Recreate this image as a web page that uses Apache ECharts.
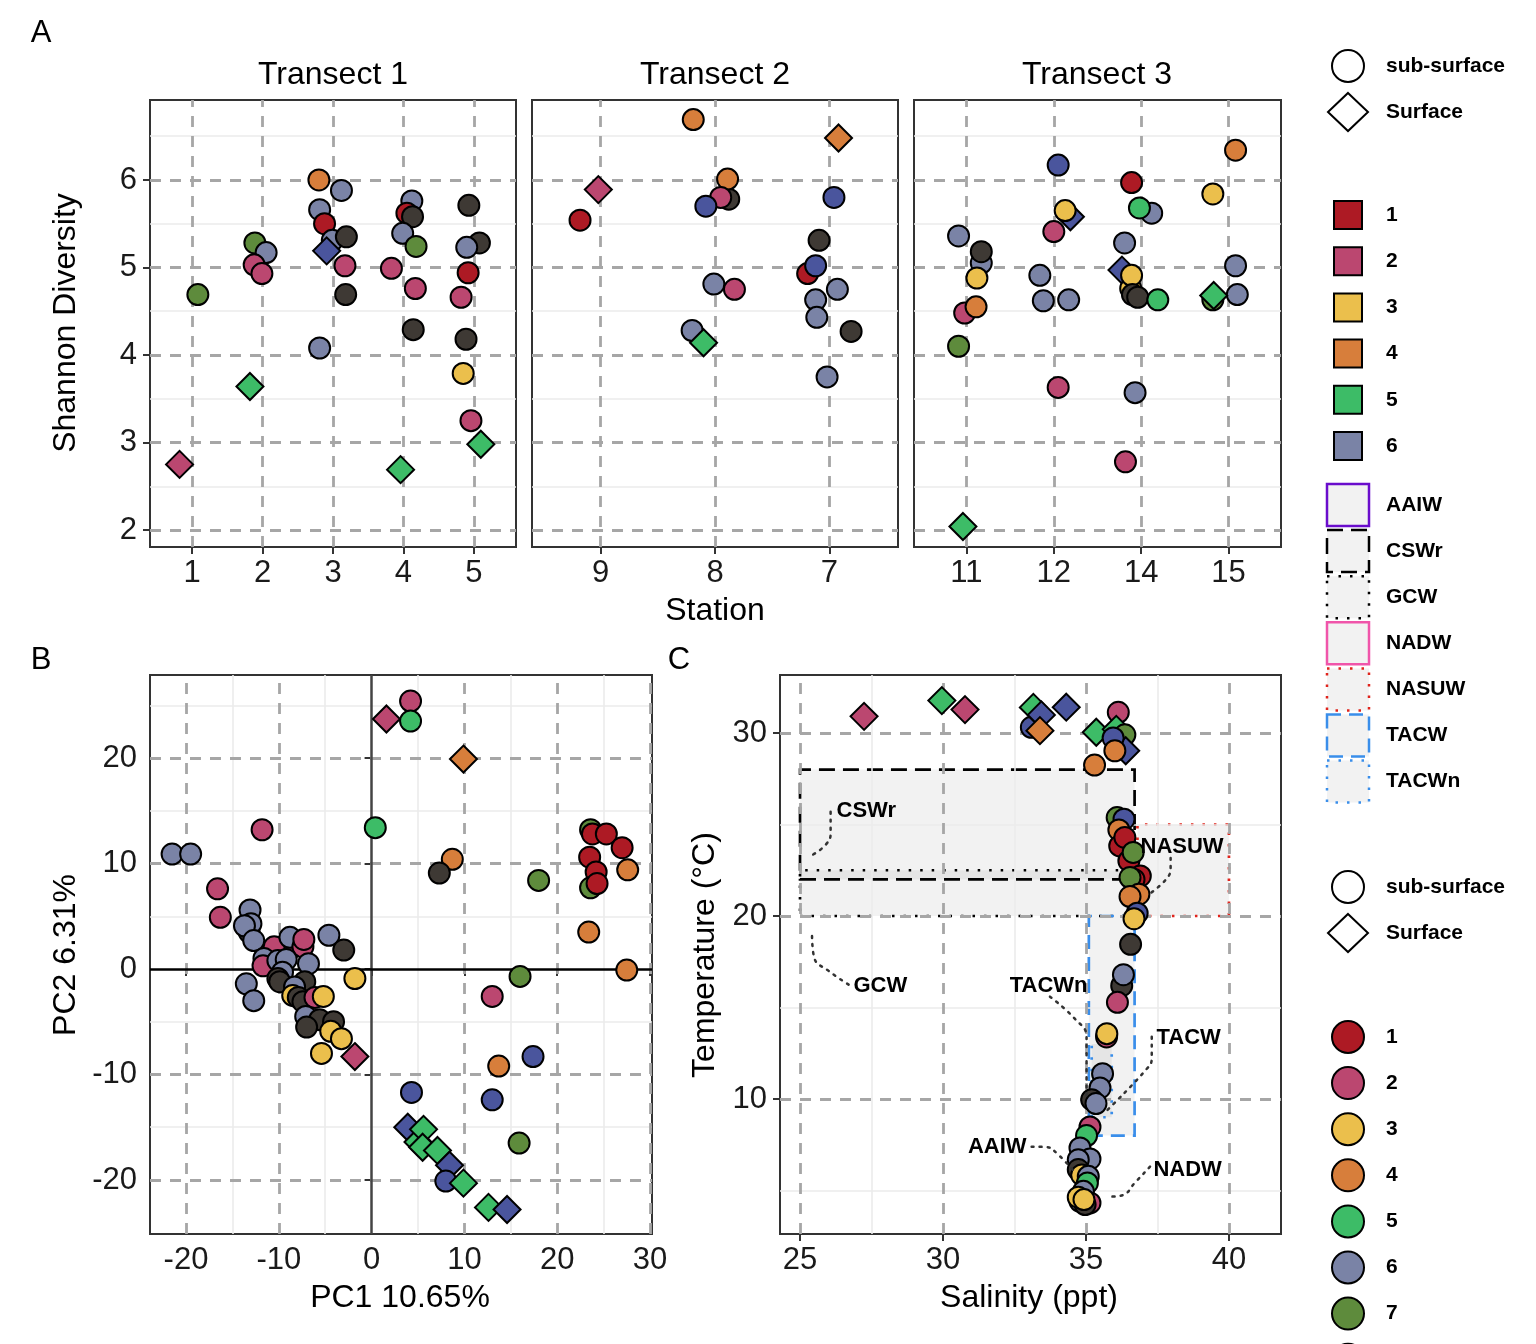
<!DOCTYPE html>
<html>
<head>
<meta charset="utf-8">
<title>Shannon diversity, PCA and T-S diagram</title>
<script src="https://cdn.jsdelivr.net/npm/echarts@6/dist/echarts.min.js"></script>
<style>
  html, body { margin: 0; padding: 0; background: #fff; }
  #chart { width: 1536px; height: 1344px; }
</style>
</head>
<body>
<div id="chart"></div>
<script>
// ------------------------------
// Data
// ------------------------------

// station labels per transect (left to right)
var stationsT1 = ['1', '2', '3', '4', '5'];
var stationsT2 = ['9', '8', '7'];
var stationsT3 = ['11', '12', '14', '15'];

var groupNames = ['1', '2', '3', '4', '5', '6', '7', '8', '9'];
var depthNames = ['sub-surface', 'Surface'];
var waterMasses = ['AAIW', 'CSWr', 'GCW', 'NADW', 'NASUW', 'TACW', 'TACWn'];

// [station position (jittered), Shannon, group, surface?]
var shannonT1 = [
    [0.82, 2.75, 2, 1], [1.82, 3.64, 5, 1], [1.08, 4.69, 7, 0], [1.89, 5.28, 7, 0],
    [2.05, 5.17, 6, 0], [1.88, 5.03, 2, 0], [1.99, 4.93, 2, 0], [2.80, 6.00, 4, 0],
    [3.12, 5.88, 6, 0], [2.81, 5.66, 6, 0], [2.88, 5.50, 1, 0], [2.99, 5.31, 6, 0],
    [3.19, 5.35, 8, 0], [2.91, 5.19, 9, 1], [3.17, 5.02, 2, 0], [3.18, 4.69, 8, 0],
    [2.81, 4.08, 6, 0], [4.12, 5.76, 6, 0], [4.05, 5.62, 1, 0], [4.13, 5.58, 8, 0],
    [3.99, 5.39, 6, 0], [4.18, 5.24, 7, 0], [3.83, 4.99, 2, 0], [4.17, 4.76, 2, 0],
    [4.14, 4.29, 8, 0], [3.96, 2.69, 5, 1], [4.93, 5.71, 8, 0], [5.08, 5.28, 8, 0],
    [4.90, 5.23, 6, 0], [4.92, 4.94, 1, 0], [4.82, 4.66, 2, 0], [4.89, 4.18, 8, 0],
    [4.85, 3.79, 3, 0], [4.96, 3.25, 2, 0], [5.10, 2.98, 5, 1]
];
var shannonT2 = [
    [0.98, 5.89, 2, 1], [0.82, 5.54, 1, 0], [1.81, 6.69, 4, 0], [2.12, 5.78, 8, 0],
    [2.11, 6.01, 4, 0], [2.05, 5.80, 2, 0], [1.92, 5.70, 9, 0], [1.99, 4.81, 6, 0],
    [2.17, 4.75, 2, 0], [1.80, 4.28, 6, 0], [1.90, 4.14, 5, 1], [3.08, 6.48, 4, 1],
    [3.04, 5.80, 9, 0], [2.91, 5.31, 8, 0], [2.81, 4.93, 1, 0], [2.88, 5.02, 9, 0],
    [3.07, 4.75, 6, 0], [2.88, 4.63, 6, 0], [2.89, 4.43, 6, 0], [3.19, 4.27, 8, 0],
    [2.98, 3.75, 6, 0]
];
var shannonT3 = [
    [0.96, 2.04, 5, 1], [0.91, 5.36, 6, 0], [1.17, 5.05, 6, 0], [1.17, 5.18, 8, 0],
    [1.12, 4.88, 3, 0], [0.98, 4.48, 2, 0], [1.11, 4.55, 4, 0], [0.91, 4.10, 7, 0],
    [2.05, 6.17, 9, 0], [2.19, 5.58, 9, 1], [2.13, 5.65, 3, 0], [2.00, 5.41, 2, 0],
    [1.84, 4.91, 6, 0], [1.88, 4.62, 6, 0], [2.17, 4.63, 6, 0], [2.05, 3.63, 2, 0],
    [2.89, 5.97, 1, 0], [3.12, 5.62, 6, 0], [2.98, 5.68, 5, 0], [2.81, 5.28, 6, 0],
    [2.78, 4.97, 9, 1], [2.88, 4.76, 3, 0], [2.89, 4.91, 3, 0], [2.90, 4.69, 8, 0],
    [2.96, 4.66, 8, 0], [3.19, 4.63, 5, 0], [2.93, 3.57, 6, 0], [2.82, 2.78, 2, 0],
    [4.08, 6.34, 4, 0], [3.82, 5.84, 3, 0], [4.08, 5.02, 6, 0], [4.10, 4.69, 6, 0],
    [3.82, 4.63, 7, 0], [3.83, 4.68, 5, 1]
];

// [PC1, PC2, group, surface?]
var pcaPoints = [
    [-21.5, 10.9, 6, 0], [-19.5, 10.9, 6, 0], [-11.8, 13.2, 2, 0], [-16.6, 7.6, 2, 0],
    [-16.3, 4.9, 2, 0], [-13.1, 5.6, 6, 0], [-13.2, 3.5, 8, 0], [-13.0, 4.3, 6, 0],
    [-13.7, 4.1, 6, 0], [-12.7, 2.7, 6, 0], [-8.9, 1.8, 2, 0], [-10.5, 2.1, 2, 0],
    [-8.8, 3.0, 6, 0], [-7.4, 2.1, 2, 0], [-7.3, 2.8, 2, 0], [-4.6, 3.2, 6, 0],
    [-3.0, 1.8, 8, 0], [-11.6, 1.0, 6, 0], [-11.7, 0.3, 2, 0], [-10.1, 0.8, 6, 0],
    [-9.2, 0.9, 6, 0], [-9.6, -0.3, 6, 0], [-6.8, 0.5, 6, 0], [-1.8, -0.9, 3, 0],
    [-13.5, -1.4, 6, 0], [-12.7, -3.0, 6, 0], [-10.1, -0.9, 8, 0], [-9.9, -1.2, 8, 0],
    [-7.2, -1.2, 8, 0], [-8.3, -1.7, 6, 0], [-8.5, -2.5, 3, 0], [-7.9, -2.7, 8, 0],
    [-7.4, -3.1, 8, 0], [-6.1, -2.7, 2, 0], [-5.2, -2.6, 3, 0], [-7.1, -4.5, 6, 0],
    [-5.6, -4.8, 8, 0], [-4.1, -5.0, 8, 0], [-7.0, -5.5, 8, 0], [-4.4, -5.9, 3, 0],
    [-3.25, -6.6, 3, 0], [-5.4, -8.0, 3, 0], [-1.8, -8.3, 2, 1],
    [1.6, 23.7, 2, 1], [4.2, 25.4, 2, 0], [4.2, 23.5, 5, 0], [9.9, 19.9, 4, 1],
    [0.4, 13.4, 5, 0], [8.7, 10.4, 4, 0], [7.3, 9.1, 8, 0], [18.0, 8.4, 7, 0],
    [23.6, 13.2, 7, 0], [23.8, 12.8, 1, 0], [25.3, 12.8, 1, 0], [27.0, 11.5, 1, 0],
    [23.5, 10.6, 1, 0], [27.6, 9.4, 4, 0], [24.2, 9.2, 1, 0], [23.6, 7.7, 7, 0],
    [24.3, 8.1, 1, 0], [23.4, 3.5, 4, 0], [27.5, -0.1, 4, 0], [16.0, -0.7, 7, 0],
    [13.0, -2.6, 2, 0], [17.4, -8.3, 9, 0], [13.7, -9.2, 4, 0], [4.3, -11.7, 9, 0],
    [13.0, -12.4, 9, 0], [15.9, -16.5, 7, 0], [3.9, -15.0, 9, 1], [5.0, -16.4, 5, 1],
    [5.6, -15.2, 5, 1], [5.5, -16.9, 5, 1], [7.1, -17.2, 5, 1], [8.4, -18.6, 9, 1],
    [8.0, -20.1, 9, 0], [9.9, -20.3, 5, 1], [12.6, -22.6, 5, 1], [14.6, -22.8, 9, 1]
];

// [salinity, temperature, group, surface?]
var tsPoints = [
    [27.24, 30.91, 2, 1], [29.96, 31.77, 5, 1], [30.77, 31.28, 2, 1], [33.09, 30.31, 9, 0],
    [33.16, 31.40, 5, 1], [33.44, 30.99, 9, 1], [33.39, 30.13, 4, 1], [34.31, 31.41, 9, 1],
    [36.13, 31.13, 2, 0], [35.36, 30.04, 5, 1], [36.06, 30.20, 5, 1], [36.36, 29.90, 7, 0],
    [36.39, 29.03, 9, 1], [35.95, 29.73, 9, 0], [36.01, 29.03, 4, 0], [35.30, 28.25, 4, 0],
    [36.09, 25.38, 7, 0], [36.33, 25.29, 9, 0], [36.15, 24.70, 4, 0], [36.18, 23.83, 1, 0],
    [36.36, 24.29, 1, 0], [36.50, 23.01, 1, 0], [36.65, 23.47, 7, 0], [36.90, 22.19, 1, 0],
    [36.68, 22.00, 1, 0], [36.54, 22.10, 7, 0], [36.85, 21.19, 4, 0], [36.54, 21.06, 4, 0],
    [36.79, 20.15, 9, 0], [36.68, 19.85, 3, 0], [36.56, 18.45, 8, 0], [36.25, 16.19, 8, 0],
    [36.31, 16.79, 6, 0], [36.10, 15.28, 2, 0], [35.72, 13.39, 2, 0], [35.73, 13.57, 3, 0],
    [35.58, 11.38, 6, 0], [35.49, 10.60, 6, 0], [35.20, 9.96, 8, 0], [35.35, 9.75, 6, 0],
    [35.14, 8.47, 2, 0], [35.02, 8.00, 5, 0], [34.79, 7.32, 6, 0], [35.14, 6.72, 6, 0],
    [34.73, 6.68, 6, 0], [34.73, 6.14, 8, 0], [34.85, 5.85, 3, 0], [35.08, 5.77, 6, 0],
    [35.05, 5.41, 5, 0], [34.91, 4.95, 6, 0], [34.79, 4.41, 6, 0], [35.14, 4.32, 2, 0],
    [34.97, 4.23, 8, 0], [34.73, 4.63, 3, 0], [34.93, 4.50, 3, 0]
];

// water mass boxes: [name, Smin, Tmin, Smax, Tmax]
var massBoxes = [
    ['GCW', 25, 20, 36.6, 22.5],
    ['CSWr', 25, 22, 36.7, 28],
    ['NASUW', 36.8, 20, 40, 25],
    ['TACW', 35.1, 8, 36.7, 20],
    ['TACWn', 35.2, 9, 35.9, 13]
];

// water mass labels: [name, S, T, anchor side]
var massLabels = [
    ['CSWr', 26.26, 25.74, 'right'],
    ['NASUW', 36.89, 23.77, 'right'],
    ['GCW', 26.85, 16.17, 'right'],
    ['TACWn', 35.07, 16.17, 'left'],
    ['TACW', 37.45, 13.33, 'right'],
    ['AAIW', 32.94, 7.38, 'left'],
    ['NADW', 37.34, 6.12, 'right']
];

// leader lines from labels to the water mass (S, T)
var massLeaders = [
    [[26.07, 25.7], [26.07, 24.5], [25.9, 23.9], [25.45, 23.35]],
    [[37.96, 23.17], [37.96, 22.6], [37.8, 22.0], [37.17, 21.15]],
    [[25.42, 18.9], [25.5, 17.7], [26.0, 17.0], [26.75, 16.2]],
    [[33.74, 15.59], [34.6, 14.4], [35.02, 13.4], [35.02, 10.2]],
    [[37.3, 13.4], [37.3, 12.2], [37.1, 11.6], [35.75, 9.4]],
    [[33.1, 7.39], [33.63, 7.37], [34.0, 7.0], [34.55, 6.1]],
    [[37.24, 6.3], [36.7, 5.4], [36.3, 4.75], [35.84, 4.66]]
];

// ------------------------------
// Styles
// ------------------------------

var FONT = '"Liberation Sans", Arial, Helvetica, sans-serif';
var groupColors = ['#AD1A24', '#BB4770', '#EBBF4C', '#D77E3B', '#3DBC67',
                   '#7A83A6', '#5E8B3C', '#3E3934', '#4A559D'];
var massStyles = {
    AAIW:  { stroke: '#6A0DCC', dash: null },
    CSWr:  { stroke: '#000000', dash: [16, 8] },
    GCW:   { stroke: '#000000', dash: [2.5, 9] },
    NADW:  { stroke: '#F055AA', dash: null },
    NASUW: { stroke: '#E0241C', dash: [2.5, 9] },
    TACW:  { stroke: '#3A8EEA', dash: [14, 8] },
    TACWn: { stroke: '#3A8EEA', dash: [2.5, 9] }
};

var majorStyle = { color: '#a6a6a6', width: 2.8, type: [11, 9] };
var minorStyle = { color: '#ebebeb', width: 1.6, type: 'solid' };

var chart = echarts.init(document.getElementById('chart'));

// gridlines drawn as markLines so they can follow exact break values
function gridLines(xMajor, xMinor, yMajor, yMinor) {
    var d = [];
    xMinor.forEach(function (v) { d.push({ xAxis: v, lineStyle: minorStyle }); });
    yMinor.forEach(function (v) { d.push({ yAxis: v, lineStyle: minorStyle }); });
    xMajor.forEach(function (v) { d.push({ xAxis: v, lineStyle: majorStyle }); });
    yMajor.forEach(function (v) { d.push({ yAxis: v, lineStyle: majorStyle }); });
    return d;
}

function gridSeries(idx, lines) {
    return {
        type: 'scatter', xAxisIndex: idx, yAxisIndex: idx, data: [], z: 1, silent: true,
        markLine: { silent: true, symbol: ['none', 'none'], label: { show: false },
                    animation: false, data: lines }
    };
}

function pointSeries(idx, rows) {
    return {
        type: 'scatter', xAxisIndex: idx, yAxisIndex: idx, z: 5, silent: true,
        itemStyle: { borderColor: '#000', borderWidth: 2, opacity: 1 },
        data: rows.map(function (r) {
            return {
                value: [r[0], r[1]],
                symbol: r[3] ? 'diamond' : 'circle',
                symbolSize: r[3] ? 27 : 21,
                itemStyle: { color: groupColors[r[2] - 1] }
            };
        })
    };
}

function seq(a, b, step) {
    var out = [];
    for (var v = a; v <= b + 1e-9; v += step) out.push(Math.round(v * 100) / 100);
    return out;
}

var tickLabel = { fontFamily: FONT, fontSize: 31, color: '#1a1a1a' };

function xAxisFor(idx, min, max, ticks, names) {
    return {
        type: 'value', gridIndex: idx, min: min, max: max,
        axisLine: { show: false }, splitLine: { show: false },
        axisTick: { show: true, length: 7, customValues: ticks,
                    lineStyle: { color: '#333', width: 2 } },
        axisLabel: Object.assign({ margin: 11, customValues: ticks,
            formatter: function (v) {
                if (names) return names[Math.round(v) - 1];
                return String(v);
            } }, tickLabel)
    };
}

function yAxisFor(idx, min, max, ticks, showLabels) {
    return {
        type: 'value', gridIndex: idx, min: min, max: max,
        axisLine: { show: false }, splitLine: { show: false },
        axisTick: { show: showLabels, length: 7, customValues: ticks,
                    lineStyle: { color: '#333', width: 2 } },
        axisLabel: Object.assign({ show: showLabels, margin: 13, customValues: ticks,
            formatter: function (v) { return String(v); } }, tickLabel)
    };
}

var gridBase = { show: true, borderColor: '#333', borderWidth: 2, backgroundColor: 'transparent' };

// ------------------------------
// Legends and titles (graphic)
// ------------------------------

var graphics = [];

function addText(text, x, y, size, opts) {
    opts = opts || {};
    graphics.push({
        type: 'text', x: x, y: y, rotation: opts.rotation || 0, z: 20,
        style: {
            text: text, fontFamily: FONT, fontSize: size,
            fontWeight: opts.bold ? 'bold' : 'normal',
            fill: opts.color || '#000',
            textAlign: opts.align || 'center', textVerticalAlign: 'middle'
        }
    });
}

function addCircle(cx, cy, r, fill) {
    graphics.push({ type: 'circle', z: 20, shape: { cx: cx, cy: cy, r: r },
                    style: { fill: fill, stroke: '#000', lineWidth: 2 } });
}

function addDiamond(cx, cy, w, h, fill) {
    graphics.push({ type: 'polygon', z: 20,
        shape: { points: [[cx, cy - h], [cx + w, cy], [cx, cy + h], [cx - w, cy]] },
        style: { fill: fill, stroke: '#000', lineWidth: 2 } });
}

function shapeLegend(y0) {
    addCircle(1348, y0, 16, '#fff');
    addText(depthNames[0], 1386, y0, 21, { bold: true, align: 'left' });
    addDiamond(1348, y0 + 46, 20, 19, '#fff');
    addText(depthNames[1], 1386, y0 + 46, 21, { bold: true, align: 'left' });
}

shapeLegend(66);
groupNames.slice(0, 6).forEach(function (g, i) {
    var cy = 215 + i * 46.2;
    graphics.push({ type: 'rect', z: 20, shape: { x: 1334, y: cy - 14, width: 28, height: 28 },
                    style: { fill: groupColors[i], stroke: '#000', lineWidth: 2 } });
    addText(g, 1386, cy, 21, { bold: true, align: 'left' });
});
waterMasses.forEach(function (m, i) {
    var cy = 505 + i * 46.1;
    var st = massStyles[m];
    graphics.push({ type: 'rect', z: 20, shape: { x: 1327, y: cy - 21, width: 42, height: 42 },
                    style: { fill: '#f2f2f2', stroke: st.stroke, lineWidth: 2.5,
                             lineDash: st.dash || null } });
    addText(m, 1386, cy, 21, { bold: true, align: 'left' });
});
shapeLegend(887);
groupNames.forEach(function (g, i) {
    var cy = 1037 + i * 46.1;
    addCircle(1348, cy, 16, groupColors[i]);
    addText(g, 1386, cy, 21, { bold: true, align: 'left' });
});

// panel letters, strip titles and axis titles
addText('A', 41, 33, 31);
addText('B', 41, 660, 31);
addText('C', 679, 660, 31);
addText('Transect 1', 333, 75, 32);
addText('Transect 2', 715, 75, 32);
addText('Transect 3', 1097, 75, 32);
addText('Shannon Diversity', 66, 323, 32, { rotation: Math.PI / 2 });
addText('Station', 715, 611, 32);
addText('PC2 6.31%', 66, 955, 32, { rotation: Math.PI / 2 });
addText('PC1 10.65%', 400, 1298, 32);
addText('Temperature (°C)', 705, 955, 32, { rotation: Math.PI / 2 });
addText('Salinity (ppt)', 1029, 1298, 32);

// ------------------------------
// Series
// ------------------------------

var yA = [2, 3, 4, 5, 6];
var yAminor = [2.5, 3.5, 4.5, 5.5, 6.5];
var series = [
    gridSeries(0, gridLines(seq(1, 5, 1), [], yA, yAminor)),
    gridSeries(1, gridLines(seq(1, 3, 1), [], yA, yAminor)),
    gridSeries(2, gridLines(seq(1, 4, 1), [], yA, yAminor)),
    gridSeries(3, gridLines([-20, -10, 10, 20, 30], [-15, -5, 5, 15, 25],
                            [-20, -10, 10, 20], [-15, -5, 5, 15, 25])),
    gridSeries(4, gridLines([25, 30, 35, 40], [27.5, 32.5, 37.5],
                            [10, 20, 30], [5, 15, 25])),
    // zero lines in PCA panel
    {
        type: 'scatter', xAxisIndex: 3, yAxisIndex: 3, data: [], z: 3, silent: true,
        markLine: { silent: true, symbol: ['none', 'none'], label: { show: false }, animation: false,
            data: [{ xAxis: 0, lineStyle: { color: '#444', width: 2.5, type: 'solid' } },
                   { yAxis: 0, lineStyle: { color: '#000', width: 2.5, type: 'solid' } }] }
    },
    // water mass boxes
    {
        type: 'scatter', xAxisIndex: 4, yAxisIndex: 4, data: [], z: 2, silent: true,
        markArea: { silent: true, animation: false,
            data: massBoxes.map(function (b) {
                var st = massStyles[b[0]];
                return [{ coord: [b[1], b[2]], itemStyle: {
                            color: 'rgba(0,0,0,0.05)', borderColor: st.stroke, borderWidth: 2.7,
                            borderType: st.dash || 'solid' } },
                        { coord: [b[3], b[4]] }];
            }) }
    },
    pointSeries(0, shannonT1),
    pointSeries(1, shannonT2),
    pointSeries(2, shannonT3),
    pointSeries(3, pcaPoints),
    pointSeries(4, tsPoints),
    // water mass labels
    {
        type: 'scatter', xAxisIndex: 4, yAxisIndex: 4, z: 8, silent: true,
        symbolSize: 1, itemStyle: { color: 'rgba(0,0,0,0)' },
        data: massLabels.map(function (l) {
            return { name: l[0], value: [l[1], l[2]],
                     label: { show: true, position: l[3], distance: 0, formatter: '{b}',
                              opacity: 1, textBorderWidth: 0,
                              fontFamily: FONT, fontSize: 22, fontWeight: 'bold', color: '#000' } };
        })
    }
];

massLeaders.forEach(function (pts) {
    series.push({
        type: 'line', xAxisIndex: 4, yAxisIndex: 4, z: 7, silent: true,
        data: pts, smooth: 0.45, showSymbol: false, symbol: 'none',
        lineStyle: { color: '#333', width: 2.5, type: [2, 6], cap: 'round' }
    });
});

// ------------------------------
// Options
// ------------------------------

var option = {
    animation: false,
    backgroundColor: '#fff',
    textStyle: { fontFamily: FONT },
    grid: [
        Object.assign({ left: 150, top: 100, width: 366, height: 447 }, gridBase),
        Object.assign({ left: 532, top: 100, width: 366, height: 447 }, gridBase),
        Object.assign({ left: 914, top: 100, width: 367, height: 447 }, gridBase),
        Object.assign({ left: 150, top: 675, width: 502, height: 559 }, gridBase),
        Object.assign({ left: 780, top: 675, width: 501, height: 559 }, gridBase)
    ],
    xAxis: [
        xAxisFor(0, 0.4, 5.6, [1, 2, 3, 4, 5], stationsT1),
        xAxisFor(1, 0.4, 3.6, [1, 2, 3], stationsT2),
        xAxisFor(2, 0.4, 4.6, [1, 2, 3, 4], stationsT3),
        xAxisFor(3, -23.88, 30.22, [-20, -10, 0, 10, 20, 30]),
        xAxisFor(4, 24.3, 41.82, [25, 30, 35, 40])
    ],
    yAxis: [
        yAxisFor(0, 1.806, 6.914, yA, true),
        yAxisFor(1, 1.806, 6.914, yA, false),
        yAxisFor(2, 1.806, 6.914, yA, false),
        yAxisFor(3, -25.12, 27.87, [-20, -10, 0, 10, 20], true),
        yAxisFor(4, 2.62, 33.17, [10, 20, 30], true)
    ],
    graphic: graphics,
    series: series
};

chart.setOption(option);
</script>
</body>
</html>
